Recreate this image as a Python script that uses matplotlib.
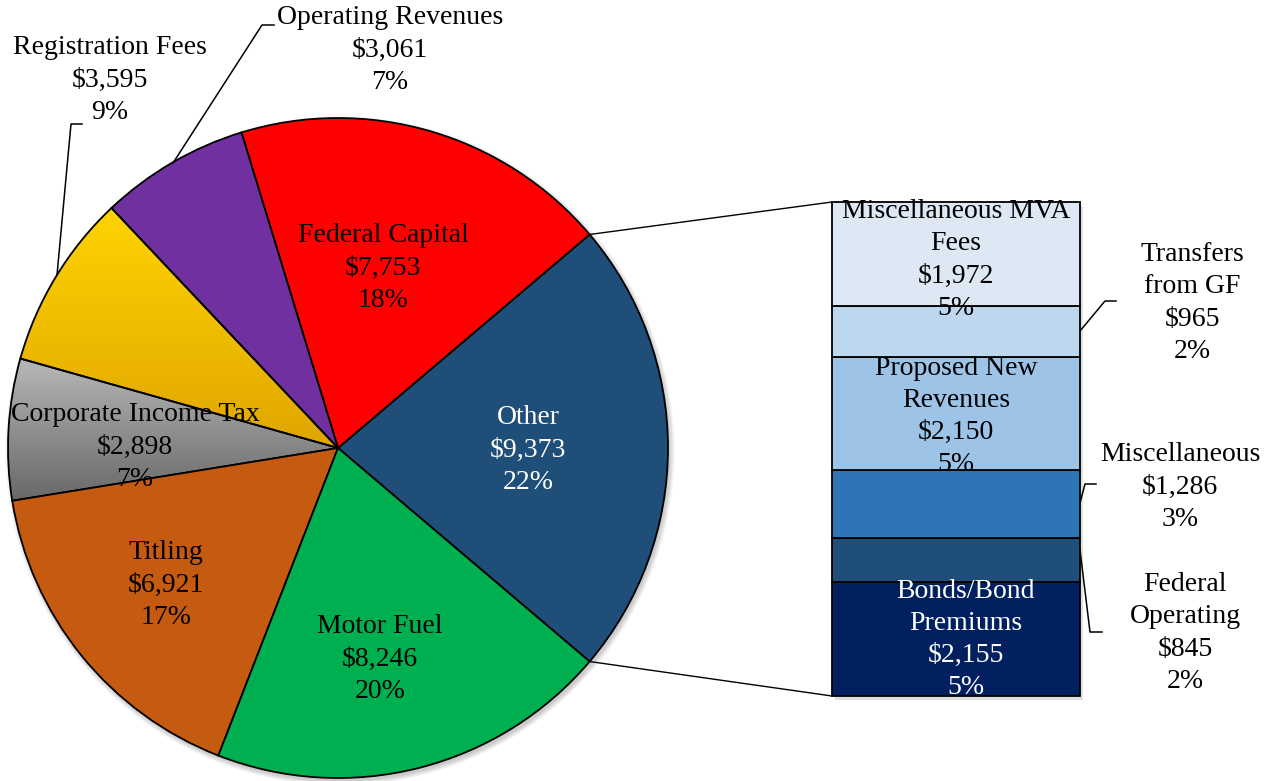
import matplotlib.pyplot as plt
import numpy as np
from matplotlib.patches import ConnectionPatch, Circle, Rectangle
from matplotlib.colors import LinearSegmentedColormap

# Pie data (Other is split out into the bar)
pie_names = ["Other", "Federal Capital", "Operating Revenues", "Registration Fees",
             "Corporate Income Tax", "Titling", "Motor Fuel"]
pie_values = [9373, 7753, 3061, 3595, 2898, 6921, 8246]
pie_pcts = [22, 18, 7, 9, 7, 17, 20]
pie_colors = ["#1F4E79", "#FF0000", "#7030A0", "#FFC000", "#999999", "#C55A11", "#00B050"]

# Bar data, bottom to top
bar_names = ["Bonds/Bond\nPremiums", "Federal\nOperating", "Miscellaneous",
             "Proposed New\nRevenues", "Transfers\nfrom GF", "Miscellaneous MVA\nFees"]
bar_values = [2155, 845, 1286, 2150, 965, 1972]
bar_pcts = [5, 2, 3, 5, 2, 5]
bar_colors = ["#002060", "#1F4E79", "#2E75B6", "#9DC3E6", "#BDD7EE", "#DDE8F4"]

W, H = 1269, 781
FONT = "Liberation Serif"
FS = 20
LS = 1.37

def lab(name, val, pct):
    return f"{name}\n${val:,}\n{pct}%"

fig = plt.figure(figsize=(W / 100, H / 100), dpi=100)
ax = fig.add_axes([0, 0, 1, 1])

cx, cy, r = 338, H - 448, 330
start = -pie_values[0] / sum(pie_values) * 180

# soft shadow
for k in range(6):
    ax.add_patch(Circle((cx + 2, cy - 3), r + k * 0.9, color="black", alpha=0.035,
                        lw=0, zorder=-3))

wedges, _ = ax.pie(pie_values, colors=pie_colors, startangle=start, center=(cx, cy),
                   radius=r, frame=True,
                   wedgeprops=dict(edgecolor="black", linewidth=1.3))

# gradient fills for registration and corporate slices
grads = {3: ("#FFD400", "#E0A500"), 4: ("#B8B8B8", "#686868")}
for i, (c_top, c_bot) in grads.items():
    w = wedges[i]
    th = np.radians(np.linspace(w.theta1, w.theta2, 60))
    xs = np.concatenate([[cx], cx + r * np.cos(th)])
    ys = np.concatenate([[cy], cy + r * np.sin(th)])
    cmap = LinearSegmentedColormap.from_list("g%d" % i, [c_top, c_bot])
    g = np.linspace(0, 1, 256).reshape(-1, 1)
    im = ax.imshow(g, cmap=cmap, extent=(xs.min(), xs.max(), ys.min(), ys.max()),
                   origin="upper", aspect="auto", zorder=0.5, interpolation="bilinear")
    im.set_clip_path(w)
    w.set_facecolor("none")
    w.set_zorder(1)

ax.set_xlim(0, W)
ax.set_ylim(0, H)
ax.axis("off")

# pie labels
pie_pos = [(528, 450), (383, 268), (390, 50), (110, 80), (135, 447), (166, 585), (380, 659)]
for i, (x, y) in enumerate(pie_pos):
    col = "white" if i == 0 else "black"
    ax.text(x, H - y, lab(pie_names[i], pie_values[i], pie_pcts[i]), ha="center",
            va="center", fontsize=FS, family=FONT, color=col, zorder=5, linespacing=LS)

# leader lines for outside labels
leaders = [
    [(57, 275), (71, 124), (82, 124)],
    [(173, 163), (262, 25), (274, 25)],
    [(1080, 331), (1105, 301), (1116, 301)],
    [(1080, 503), (1085, 484), (1096, 484)],
    [(1080, 550), (1090, 632), (1102, 632)],
]
for pts in leaders:
    ax.plot([p[0] for p in pts], [H - p[1] for p in pts], color="black", lw=1.1, zorder=4)

# bar of pie
bx0, by0, bw, bh = 832, 696, 248, 494
ax.add_patch(Rectangle((bx0 + 3, H - by0 - 4), bw, bh, color="black", alpha=0.12,
                       lw=0, zorder=-3))
bx = fig.add_axes([bx0 / W, (H - by0) / H, bw / W, bh / H])
total = sum(bar_values)
bottoms = np.concatenate([[0], np.cumsum(bar_values)[:-1]])
bars = bx.bar(0, bar_values, width=1, bottom=bottoms, color=bar_colors,
              edgecolor="black", linewidth=1.3)
for b in bars:
    b.set_clip_on(False)
bx.set_xlim(-0.5, 0.5)
bx.set_ylim(0, total)
bx.axis("off")

# labels inside the bar
inside = {0: (0.04, "white", 0), 3: (0.0, "black", 57), 5: (0.0, "black", 114)}
for i, (dx, col, dy) in inside.items():
    bx.text(dx, bottoms[i] + bar_values[i] / 2 - dy,
            lab(bar_names[i], bar_values[i], bar_pcts[i]),
            ha="center", va="center", fontsize=FS, family=FONT, color=col, linespacing=LS)

# labels outside the bar
outside = {4: (1192, 303), 2: (1180, 487), 1: (1185, 633)}
for i, (x, y) in outside.items():
    ax.text(x, H - y, lab(bar_names[i], bar_values[i], bar_pcts[i]), ha="center",
            va="center", fontsize=FS, family=FONT, color="black", linespacing=LS)

# connector lines from the "Other" slice to the bar
w0 = wedges[0]
for th, yb in [(w0.theta2, total), (w0.theta1, 0)]:
    t = np.radians(th)
    con = ConnectionPatch(xyA=(cx + r * np.cos(t), cy + r * np.sin(t)), coordsA=ax.transData,
                          xyB=(-0.5, yb), coordsB=bx.transData, color="black", lw=1.0)
    fig.add_artist(con)

fig.savefig("out.png", dpi=100)
